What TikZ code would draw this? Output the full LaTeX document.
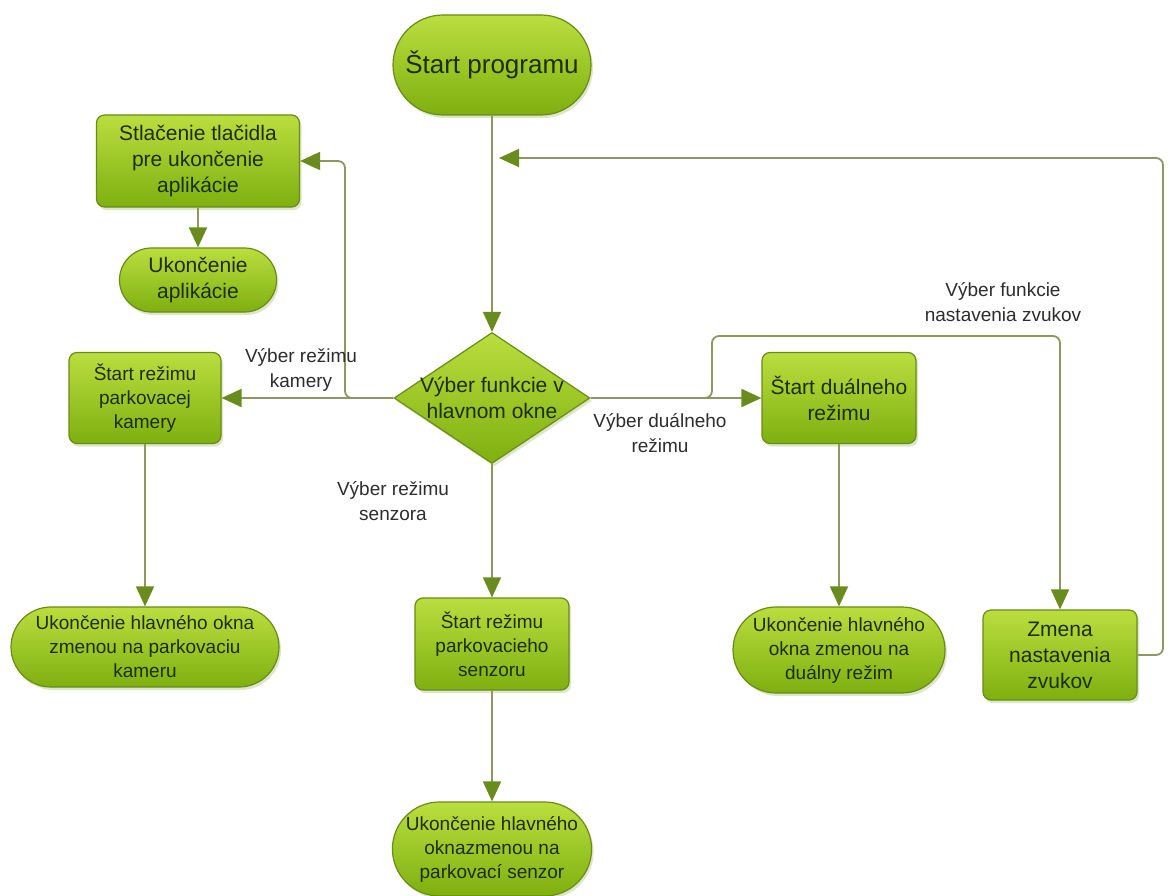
\documentclass[tikz,border=0pt]{standalone}
\usepackage{fontspec}
\setmainfont{Liberation Sans}
\usetikzlibrary{shapes.geometric,shapes.misc,arrows.meta,shadows}

\definecolor{boxtop}{RGB}{186,222,62}
\definecolor{boxbot}{RGB}{126,176,16}
\definecolor{boxedge}{RGB}{104,140,22}
\definecolor{boxtext}{RGB}{30,45,10}
\definecolor{wirecol}{RGB}{140,152,95}
\definecolor{tipgreen}{RGB}{105,140,30}
\definecolor{labeltext}{RGB}{45,45,45}

\begin{document}
\begin{tikzpicture}[x=1pt,y=-1pt,
  base/.style={draw=boxedge, line width=1.2pt, top color=boxtop, bottom color=boxbot,
    text=boxtext, align=center, inner sep=0pt, font=\fontsize{19}{24}\selectfont,
    drop shadow={shadow xshift=2pt, shadow yshift=-3pt, opacity=0.22, fill=boxedge}},
  bigtext/.style={font=\fontsize{21}{26}\selectfont},
  procbox/.style={base, rectangle, rounded corners=8pt},
  termbox/.style={base, rounded rectangle},
  decbox/.style={base, diamond, aspect=1.5, inner sep=-6pt},
  conn/.style={draw=wirecol, line width=1.8pt, rounded corners=7pt,
    -{Triangle[length=20pt,width=18pt,color=tipgreen]}},
  lbl/.style={text=labeltext, align=center, font=\fontsize{19}{25}\selectfont, inner sep=0pt}
]
\useasboundingbox (0,0) rectangle (1169,896);
\fill[white] (0,0) rectangle (1169,896);

% terminals
\node[termbox, minimum width=198pt, minimum height=100pt, font=\fontsize{26}{30}\selectfont]
  (start) at (492,65) {Štart programu};
\node[termbox, bigtext, minimum width=157pt, minimum height=64pt] (endapp) at (198,280) {Ukončenie\\aplikácie};
\node[termbox, minimum width=268pt, minimum height=80pt] (endcam) at (145,647)
  {Ukončenie hlavného okna\\zmenou na parkovaciu\\kameru};
\node[termbox, minimum width=198pt, minimum height=94pt] (endsen) at (492,849)
  {Ukončenie hlavného\\oknazmenou na\\parkovací senzor};
\node[termbox, minimum width=212pt, minimum height=86pt] (enddua) at (839,650)
  {Ukončenie hlavného\\okna zmenou na\\duálny režim};

% process steps
\node[procbox, bigtext, minimum width=203pt, minimum height=92pt] (quit) at (198,161)
  {Stlačenie tlačidla\\pre ukončenie\\aplikácie};
\node[procbox, minimum width=152pt, minimum height=91pt] (cam) at (145,398)
  {Štart režimu\\parkovacej\\kamery};
\node[procbox, minimum width=154pt, minimum height=92pt] (sen) at (492,644)
  {Štart režimu\\parkovacieho\\senzoru};
\node[procbox, bigtext, minimum width=154pt, minimum height=91pt] (dua) at (839,398)
  {Štart duálneho\\režimu};
\node[procbox, bigtext, minimum width=154pt, minimum height=90pt] (snd) at (1060,655)
  {Zmena\\nastavenia\\zvukov};

% decision
\node[decbox, bigtext, minimum width=196pt, minimum height=131pt] (dec) at (492,398)
  {Výber funkcie v\\hlavnom okne};

% connector waypoints
\coordinate (back) at (499,158);
\coordinate (rt) at (1163,158);
\coordinate (lft) at (345,398);
\coordinate (up) at (712,336);

% connectors
\draw[conn] (start.south) -- (dec.north);
\draw[conn] (quit.south) -- (endapp.north);
\draw[conn] (dec.west) -- (cam.east);
\draw[conn] (dec.west) -- (lft) |- (quit.east);
\draw[conn] (cam.south) -- (endcam.north);
\draw[conn] (dec.south) -- (sen.north);
\draw[conn] (sen.south) -- (endsen.north);
\draw[conn] (dec.east) -- (dua.west);
\draw[conn] (dec.east) -| (up) -| (snd.north);
\draw[conn] (dua.south) -- (enddua.north);
\draw[conn] (snd.east) -| (rt) -- (back);

% connector labels
\node[lbl] (lcam) at (301,370) {Výber režimu\\kamery};
\node[lbl] (lsen) at (393,501) {Výber režimu\\senzora};
\node[lbl] (ldua) at (660,433) {Výber duálneho\\režimu};
\node[lbl] (lsnd) at (1003,302) {Výber funkcie\\nastavenia zvukov};
\end{tikzpicture}
\end{document}
